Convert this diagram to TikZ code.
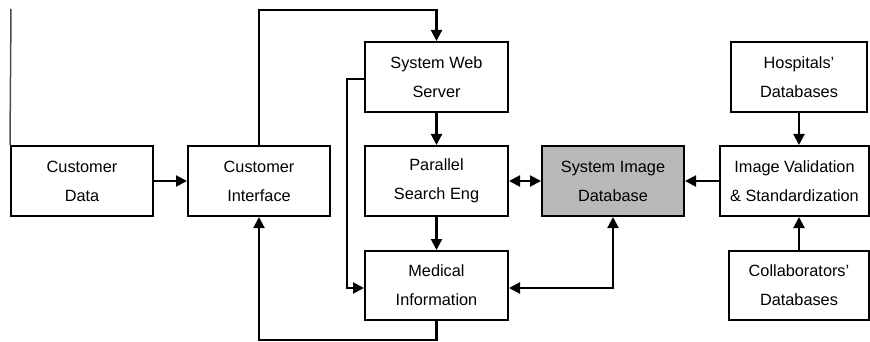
\documentclass[tikz,border=0pt]{standalone}
\usepackage{fontspec}
\setmainfont{Liberation Sans}
\usetikzlibrary{arrows.meta}

\tikzset{
  block/.style={draw, line width=2pt, minimum width=142pt, minimum height=70pt,
    align=center, font=\fontsize{16.3}{29}\selectfont, inner sep=0pt},
  link/.style={line width=2.1pt, -{Triangle[length=11pt,width=11pt]}},
  twoway/.style={line width=2.1pt, {Triangle[length=11pt,width=11pt]}-{Triangle[length=11pt,width=11pt]}}
}

\begin{document}
\begin{tikzpicture}[x=1pt, y=-1pt]
  \useasboundingbox (0,0) rectangle (870,342);
  % left column
  \node[block] (cdata) at (82,181) {Customer\\Data};
  \node[block] (cif) at (259,181) {Customer\\Interface};
  % middle column
  \node[block, minimum width=143pt] (web) at (436.5,77) {System Web\\Server};
  \node[block, minimum width=143pt] (search) at (436.5,181) {Parallel\\Search Eng};
  \node[block, minimum width=143pt, minimum height=69pt] (medinfo) at (436.5,285.5) {Medical\\Information};
  \node[block, fill=black!28] (imgdb) at (613,181) {System Image\\Database};
  % right column
  \node[block, minimum width=149pt] (valid) at (794.5,181) {Image Validation\\\& Standardization};
  \node[block, minimum width=136pt] (hosp) at (799,77) {Hospitals'\\Databases};
  \node[block, minimum width=140pt, minimum height=69pt] (collab) at (799,285.5) {Collaborators'\\Databases};

  \coordinate (topline) at (0,10);
  \coordinate (botline) at (0,340);
  \coordinate (edge) at (11,9);

  \draw[gray!60!black, line width=1.5pt] (cdata.north west) -- (edge);
  \draw[link] (cdata) -- (cif);
  \draw[link] (cif.north) -- (cif.north |- topline) -| (web.north);
  \draw[link] (web) -- (search);
  \draw[link] (search) -- (medinfo);
  \draw[link] ([yshift=-2pt]web.west) -- ++(-17,0) |- ([yshift=-2.5pt]medinfo.west);
  \draw[twoway] (search) -- (imgdb);
  \draw[twoway] ([yshift=-2.5pt]medinfo.east) -| (imgdb.south);
  \draw[link] (medinfo.south) -- (medinfo.south |- botline) -| (cif.south);
  \draw[link] (valid) -- (imgdb);
  \draw[link] (hosp.south) -- (hosp.south |- valid.north);
  \draw[link] (collab.north) -- (collab.north |- valid.south);
\end{tikzpicture}
\end{document}
